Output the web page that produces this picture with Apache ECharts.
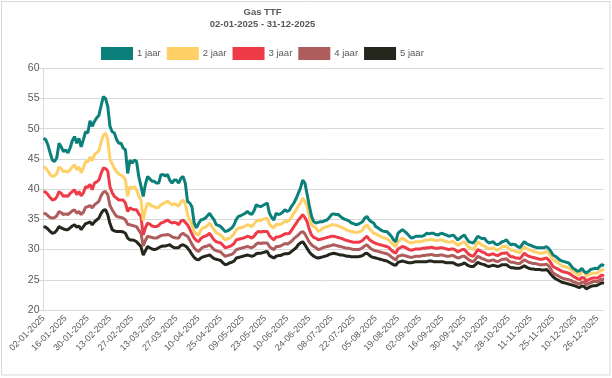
<!DOCTYPE html>
<html>
<head>
<meta charset="utf-8">
<script src="https://cdn.jsdelivr.net/npm/echarts@6/dist/echarts.min.js"></script>
<style>
html,body{margin:0;padding:0;background:#fff;}
#c{width:612px;height:378px;}
</style>
</head>
<body>
<div id="c"></div>
<script>
// Trading days (weekdays of 2025 minus non-trading days)
const holidays = ['18-04','26-05','09-06','28-11','24-12','25-12'];
const seriesNames = ['1 jaar','2 jaar','3 jaar','4 jaar','5 jaar'];
const colors = ['#0B807A','#FFD066','#EE3B47','#AE5C5C','#25271D'];
const yTicks = [20,25,30,35,40,45,50,55,60];

const jaar1 = [
48.4,48.2,47.3,46.0,44.8,44.6,45.2,47.6,47.0,46.2,
46.5,46.0,46.8,48.0,48.7,47.6,48.4,47.0,48.2,49.5,
49.3,51.3,50.4,51.2,51.8,52.2,53.8,55.3,55.0,53.7,
50.4,49.5,49.3,48.2,47.6,47.6,46.8,46.5,42.6,44.8,
44.3,44.8,44.6,42.1,40.5,38.8,40.8,42.1,41.7,41.3,
41.3,41.0,41.0,42.4,42.4,42.2,42.4,41.5,41.0,41.5,
41.5,41.0,41.8,42.1,41.0,38.0,37.7,37.1,34.4,33.6,
34.3,34.9,35.0,35.2,35.6,36.0,35.4,34.9,34.1,34.0,
33.8,33.4,33.0,33.1,33.3,33.6,34.1,35.0,35.5,35.6,
35.8,36.0,36.3,36.0,35.8,36.4,37.4,37.2,37.1,37.3,
37.5,37.7,36.0,35.3,34.9,36.0,35.8,35.9,36.2,36.6,
36.3,36.5,37.2,37.7,38.4,39.3,40.2,41.5,41.0,39.1,
37.2,35.5,34.6,34.4,34.5,34.6,34.6,34.8,34.9,35.3,
35.8,35.9,35.8,35.8,35.5,35.2,35.0,34.9,34.7,34.4,
34.3,34.1,34.2,34.4,34.6,35.2,35.5,34.9,34.6,34.4,
33.8,33.6,33.3,33.1,33.0,33.0,32.6,32.2,31.6,31.3,
32.7,33.0,33.3,33.0,32.7,32.3,31.9,32.0,32.2,32.2,
32.2,32.2,32.4,32.7,32.6,32.7,32.7,32.5,32.4,32.6,
32.7,32.5,32.4,32.2,32.3,32.4,32.0,31.6,31.9,32.2,
32.4,31.8,31.3,31.2,31.1,31.6,32.2,32.0,31.8,31.9,
31.4,31.1,31.2,31.3,30.9,30.8,31.0,31.3,31.4,31.6,
31.1,30.8,30.9,30.8,30.5,30.3,30.8,31.3,31.0,30.8,
30.7,30.5,30.4,30.3,30.3,30.3,30.3,30.5,30.2,29.7,
29.1,28.9,28.6,28.3,28.1,28.0,27.9,27.8,27.4,26.9,
26.7,26.4,26.5,26.9,26.4,26.1,26.4,26.7,26.8,26.9,
26.8,27.2,27.5,27.3
];
const jaar2 = [
43.7,43.5,43.0,42.4,42.1,42.2,42.6,43.7,43.4,42.9,
43.0,42.8,43.2,43.7,44.0,43.2,43.7,42.7,43.5,44.6,
44.5,45.3,44.7,45.7,46.0,46.4,47.7,48.9,49.3,48.2,
45.0,44.2,43.4,42.9,42.5,42.3,42.1,41.5,38.8,40.4,
40.2,40.4,39.9,38.9,38.2,34.8,36.6,37.7,37.5,37.2,
37.1,36.9,37.0,37.4,37.6,37.8,38.0,37.7,37.4,37.6,
37.4,37.2,37.9,38.2,37.6,35.8,34.9,34.2,33.0,32.6,
32.4,33.2,33.6,33.7,34.0,34.4,33.8,33.3,32.8,32.6,
32.4,32.0,31.6,31.8,31.9,32.2,32.6,33.3,33.5,33.6,
33.7,33.9,34.1,34.0,33.8,34.2,34.7,34.9,34.8,35.0,
35.1,35.2,34.2,33.8,33.6,34.2,34.1,34.2,34.4,34.7,
34.6,34.9,35.4,36.0,36.6,37.2,37.7,38.5,38.0,37.1,
35.4,34.1,33.8,33.6,33.0,33.2,33.5,33.7,33.8,33.9,
34.1,34.1,34.0,33.9,33.8,33.6,33.4,33.2,33.1,33.0,
32.9,32.8,32.9,33.0,33.2,33.8,34.1,33.5,33.1,32.7,
32.6,32.4,32.2,32.0,31.9,31.8,31.5,31.1,30.8,30.5,
31.4,31.6,31.9,31.7,31.4,31.2,31.1,31.2,31.3,31.3,
31.3,31.4,31.5,31.6,31.6,31.7,31.6,31.5,31.5,31.6,
31.6,31.4,31.3,31.2,31.3,31.3,31.0,30.7,30.9,31.1,
31.3,30.8,30.4,30.2,30.0,30.6,31.3,31.0,30.7,30.6,
30.3,30.1,30.2,30.3,30.0,29.9,30.1,30.5,30.5,30.6,
30.2,29.9,29.9,29.7,29.6,29.5,30.0,30.5,30.2,30.0,
29.9,29.7,29.6,29.5,29.4,29.4,29.5,29.7,29.4,28.9,
28.3,28.1,27.9,27.6,27.3,27.2,27.1,27.0,26.7,26.4,
26.2,25.9,25.8,26.3,26.4,25.6,25.8,26.0,26.1,26.1,
26.1,26.4,26.7,26.5
];
const jaar3 = [
39.6,39.5,39.1,38.6,38.2,38.3,38.7,39.6,39.3,38.8,
38.9,38.8,39.3,39.6,39.9,39.1,39.6,38.9,39.4,40.4,
40.3,40.8,39.9,41.0,41.2,41.5,42.6,43.5,43.4,43.0,
40.4,39.4,38.8,38.5,38.2,38.2,38.2,37.7,36.3,36.9,
36.7,36.6,36.6,35.9,35.5,32.4,33.6,34.4,34.2,33.9,
33.8,33.8,34.0,34.4,34.5,34.7,34.9,34.6,34.4,34.5,
34.4,34.1,34.7,34.9,34.5,34.1,33.4,32.6,31.9,31.5,
31.3,31.8,32.1,32.2,32.4,32.7,32.1,31.6,31.3,31.2,
31.1,30.7,30.3,30.4,30.5,30.7,31.0,31.6,31.7,31.8,
31.9,32.0,32.2,32.1,31.9,32.2,32.7,33.0,32.9,33.0,
33.0,33.0,32.3,31.9,31.6,32.1,32.1,32.2,32.4,32.6,
32.6,32.7,33.2,33.8,34.3,34.9,35.3,35.8,35.3,34.6,
33.3,32.4,32.0,31.9,31.6,31.7,31.8,31.9,32.0,32.1,
32.2,32.2,32.1,32.0,31.9,31.8,31.6,31.5,31.4,31.3,
31.2,31.2,31.2,31.3,31.5,31.9,32.2,31.7,31.4,31.2,
31.0,30.9,30.8,30.7,30.6,30.5,30.3,29.9,29.6,29.4,
30.1,30.3,30.5,30.4,30.2,30.0,29.9,30.0,30.1,30.1,
30.1,30.2,30.2,30.3,30.3,30.4,30.3,30.2,30.2,30.3,
30.3,30.2,30.1,30.0,30.1,30.1,29.9,29.6,29.8,30.0,
30.0,29.6,29.2,29.0,28.9,29.4,30.0,29.8,29.6,29.5,
29.2,29.1,29.2,29.3,29.1,29.0,29.2,29.4,29.4,29.5,
29.1,28.8,28.8,28.6,28.6,28.5,28.9,29.4,29.1,28.9,
28.8,28.7,28.6,28.5,28.4,28.4,28.5,28.6,28.3,27.8,
27.2,27.0,26.8,26.6,26.4,26.3,26.2,26.1,25.9,25.6,
25.4,25.2,25.0,25.4,25.3,24.8,25.0,25.2,25.3,25.3,
25.3,25.5,25.8,25.6
];
const jaar4 = [
36.0,35.9,35.6,35.3,35.2,35.3,35.6,36.3,36.1,35.8,
35.9,35.8,36.1,36.4,36.6,36.0,36.3,35.8,36.2,37.0,
37.1,37.3,36.9,37.4,37.7,38.0,38.9,39.5,39.6,39.1,
37.3,36.6,36.0,35.5,35.4,35.3,35.2,34.9,34.2,34.1,
34.0,33.9,33.8,33.2,32.7,30.6,31.5,32.2,32.1,32.0,
31.9,31.9,32.1,32.3,32.4,32.4,32.5,32.4,32.1,32.0,
31.9,31.9,32.5,32.7,32.4,32.2,31.6,30.9,30.3,29.9,
29.7,30.1,30.4,30.5,30.6,30.8,30.4,30.0,29.8,29.7,
29.6,29.2,28.9,29.0,29.1,29.2,29.5,30.0,30.1,30.2,
30.3,30.4,30.5,30.4,30.3,30.5,30.9,31.1,31.0,31.1,
31.1,31.1,30.5,30.2,30.0,30.5,30.5,30.6,30.8,31.0,
30.9,31.1,31.4,31.8,32.1,32.4,32.8,33.0,32.6,31.9,
31.2,30.8,30.5,30.3,30.0,30.1,30.3,30.4,30.5,30.6,
30.7,30.8,30.7,30.6,30.5,30.4,30.3,30.2,30.2,30.1,
30.0,30.0,30.0,30.1,30.3,30.6,30.8,30.4,30.1,29.9,
29.8,29.7,29.6,29.5,29.4,29.3,29.1,28.8,28.5,28.3,
28.9,29.0,29.1,29.0,28.9,28.8,28.7,28.8,28.9,28.9,
28.9,29.0,29.0,29.1,29.1,29.2,29.1,29.0,29.0,29.1,
29.1,29.0,28.9,28.9,29.0,29.0,28.8,28.6,28.7,28.9,
28.9,28.6,28.3,28.1,28.0,28.4,28.9,28.7,28.5,28.4,
28.2,28.1,28.2,28.3,28.1,28.0,28.2,28.4,28.4,28.5,
28.1,27.9,27.9,27.8,27.7,27.7,28.0,28.3,28.1,27.9,
27.8,27.7,27.7,27.6,27.5,27.5,27.5,27.6,27.3,26.8,
26.1,25.9,25.7,25.5,25.3,25.2,25.1,25.0,24.9,24.7,
24.6,24.4,24.3,24.6,24.6,24.2,24.4,24.5,24.7,24.7,
24.7,24.9,25.1,25.0
];
const jaar5 = [
33.8,33.7,33.4,33.0,32.7,32.8,33.2,33.8,33.6,33.4,
33.3,33.3,33.6,33.9,34.1,33.7,33.9,33.3,33.8,34.3,
34.4,34.6,34.1,34.6,34.9,35.2,36.0,36.5,36.6,35.8,
34.3,33.3,33.1,33.0,33.0,33.0,32.9,32.7,31.9,31.6,
31.6,31.5,31.3,30.9,30.5,29.1,29.8,30.5,30.3,30.1,
30.0,30.1,30.3,30.5,30.6,30.6,30.7,30.8,30.5,30.3,
30.3,30.3,30.7,30.8,30.6,30.3,29.8,29.2,28.7,28.4,
28.3,28.6,28.8,28.9,29.0,29.1,28.8,28.5,28.4,28.3,
28.2,27.8,27.5,27.6,27.8,27.9,28.1,28.6,28.7,28.8,
28.9,29.0,29.1,29.0,28.9,29.0,29.3,29.4,29.4,29.5,
29.6,29.7,29.0,28.8,28.6,28.9,29.0,29.0,29.2,29.3,
29.3,29.4,29.7,30.0,30.3,30.8,31.1,31.3,30.8,30.2,
29.6,29.2,28.9,28.7,28.6,28.7,28.8,28.9,29.0,29.2,
29.3,29.4,29.3,29.2,29.1,29.1,29.0,28.9,28.9,28.8,
28.8,28.8,28.8,28.9,29.0,29.3,29.4,29.1,28.8,28.7,
28.6,28.5,28.4,28.3,28.2,28.1,27.9,27.7,27.5,27.4,
27.9,28.0,28.1,28.0,27.9,27.8,27.8,27.9,28.0,28.0,
28.0,28.0,28.0,28.0,28.1,28.1,28.0,28.0,28.0,28.0,
28.0,27.9,27.8,27.8,27.8,27.8,27.6,27.4,27.5,27.6,
27.8,27.5,27.3,27.2,27.2,27.5,27.9,27.7,27.6,27.5,
27.3,27.2,27.3,27.4,27.3,27.2,27.3,27.5,27.5,27.5,
27.2,27.0,27.0,26.9,26.9,26.9,27.1,27.3,27.1,26.9,
26.8,26.8,26.7,26.7,26.7,26.6,26.6,26.7,26.4,25.9,
25.5,25.2,25.0,24.8,24.6,24.5,24.4,24.3,24.2,24.1,
24.0,23.8,23.7,24.0,23.9,23.5,23.7,23.9,24.0,24.0,
24.1,24.3,24.5,24.4
];

// build categories
const categories = [];
(function(){
  const pad = n => (n < 10 ? '0' : '') + n;
  let d = Date.UTC(2025, 0, 2);
  const end = Date.UTC(2025, 11, 31);
  while (d <= end) {
    const dt = new Date(d);
    const wd = dt.getUTCDay();
    const key = pad(dt.getUTCDate()) + '-' + pad(dt.getUTCMonth() + 1);
    if (wd !== 0 && wd !== 6 && holidays.indexOf(key) < 0) {
      categories.push(key + '-2025');
    }
    d += 86400000;
  }
})();

const allData = [jaar1, jaar2, jaar3, jaar4, jaar5];
const chart = echarts.init(document.getElementById('c'), null, {renderer: 'canvas'});
const FONT = 'Liberation Sans, Arial, sans-serif';
chart.setOption({
  animation: false,
  backgroundColor: '#ffffff',
  color: colors,
  graphic: [
    {type: 'rect', silent: true, shape: {x: 1.5, y: 1.5, width: 608.5, height: 373.5},
     style: {fill: 'none', stroke: '#d9d9d9', lineWidth: 1}},
    {type: 'text', silent: true, style: {x: 262.5, y: 12, text: 'Gas TTF', textAlign: 'center', textVerticalAlign: 'middle',
      font: 'bold 9.5px ' + FONT, fill: '#595959'}},
    {type: 'text', silent: true, style: {x: 262.5, y: 24.5, text: '02-01-2025 - 31-12-2025', textAlign: 'center', textVerticalAlign: 'middle',
      font: 'bold 9.5px ' + FONT, fill: '#595959'}}
  ],
  legend: {
    left: 101, top: 47, padding: 0,
    itemWidth: 32, itemHeight: 13, itemGap: 6,
    icon: 'rect',
    textStyle: {color: '#595959', fontSize: 9.5, fontFamily: FONT, padding: [0, 0, 0, -1]},
    data: seriesNames
  },
  grid: {left: 43.5, right: 8, top: 68.3, bottom: 68, containLabel: false},
  xAxis: {
    type: 'category',
    data: categories,
    boundaryGap: false,
    axisLine: {lineStyle: {color: '#d9d9d9'}},
    axisTick: {show: false},
    axisLabel: {interval: 9, rotate: 45, fontSize: 9, color: '#595959', fontFamily: FONT, margin: 7},
    splitLine: {show: false}
  },
  yAxis: {
    type: 'value',
    min: yTicks[0], max: yTicks[yTicks.length - 1], interval: 5,
    axisLine: {show: true, lineStyle: {color: '#d9d9d9'}},
    axisTick: {show: true, length: 5, lineStyle: {color: '#d9d9d9'}},
    axisLabel: {fontSize: 10.5, color: '#595959', fontFamily: FONT, margin: 4},
    splitLine: {lineStyle: {color: '#d9d9d9', width: 1}}
  },
  series: seriesNames.map((n, i) => ({
    name: n, type: 'line', data: allData[i], showSymbol: false, symbol: 'none',
    lineStyle: {width: 3, color: colors[i]}, z: 10 - i
  }))
});
</script>
</body>
</html>
